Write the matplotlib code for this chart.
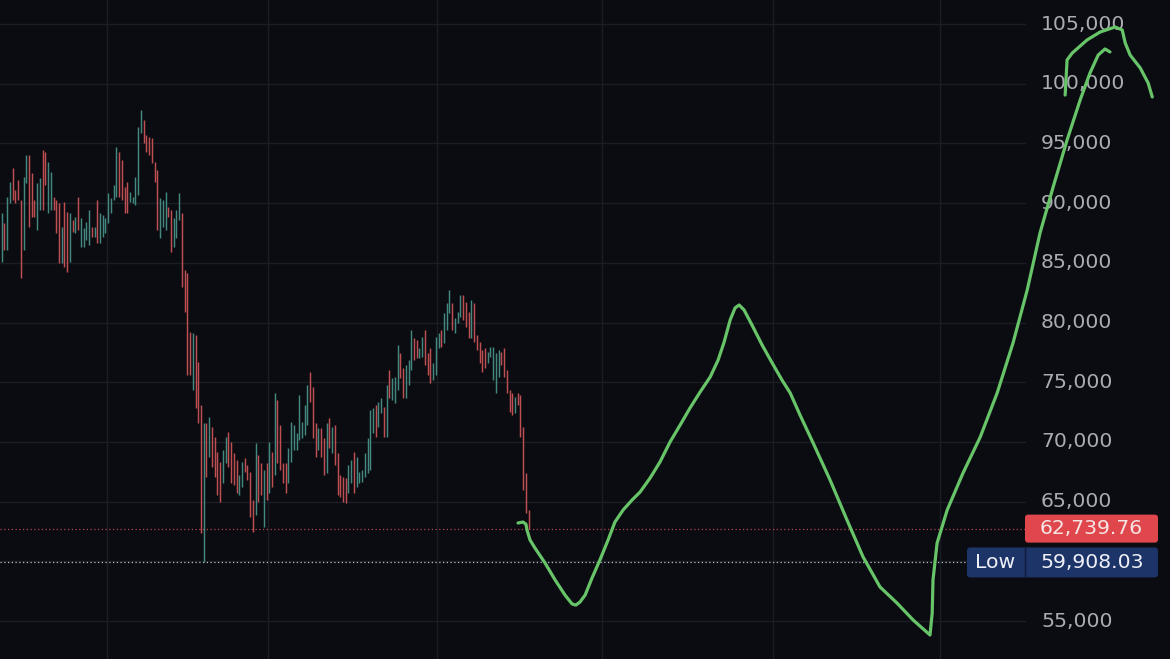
import matplotlib
matplotlib.use("Agg")
import matplotlib.pyplot as plt
import matplotlib.transforms as mtransforms
from matplotlib.patches import FancyBboxPatch
from matplotlib.lines import Line2D

# ---------------- data ----------------
highs = [89170, 88330, 90510, 91770, 92940, 91100, 91940, 90260, 92190, 94030,
         94030, 92520, 90260, 91680, 92100, 94450, 94280, 93440, 92600, 90510,
         90260, 90010, 88000, 90090, 89250, 89170, 88590, 88840, 90510, 88750,
         87920, 88420, 89420, 88000, 88000, 90260, 89170, 89000, 88750, 90850,
         90430, 91520, 94700, 94280, 93610, 91350, 91770, 90930, 90510, 92190,
         96370, 97800, 96960, 95700, 95540, 95450, 93440, 92770, 90430, 90260,
         90930, 89670, 89420, 88750, 89420, 90850, 89170, 84400, 84150, 79200,
         79120, 78950, 76690, 73090, 71590, 71590, 72090, 71250, 70410, 69160,
         68320, 69320, 70410, 70830, 70000, 69070, 68480, 67230, 68320, 68650,
         68070, 67480, 65140, 69910, 68900, 68240, 67650, 68240, 70000, 69160,
         74100, 73510, 71420, 68240, 68240, 69490, 71670, 71420, 70750, 73930,
         71670, 73090, 74770, 75860, 74600, 71590, 71170, 71170, 70330, 71590,
         72000, 71250, 71420, 69070, 67230, 67060, 66980, 68070, 68480, 69160,
         68740, 67480, 67650, 69070, 70330, 72670, 72840, 73090, 73340, 73680,
         72920, 74770, 76020, 75350, 75440, 78120, 77450, 76190, 76440, 76860,
         79370, 78700, 78540, 77870, 78790, 79370, 77450, 77870, 76610, 78790,
         79120, 79370, 80800, 81630, 82720, 81630, 80380, 80880, 82300, 82300,
         81720, 80880, 81890, 81630, 78950, 78370, 77700, 77870, 77530, 77950,
         77950, 77450, 77700, 77530, 77870, 76020, 74350, 74100, 73760, 74100,
         73930, 71250, 67400, 64300]
lows = [85070, 86070, 86070, 90010, 90260, 90010, 90260, 83730, 86070, 91680,
        88000, 88840, 88840, 87750, 89420, 89420, 91520, 89170, 89420, 89420,
        87500, 84980, 84980, 84650, 84230, 85070, 87580, 87500, 87750, 86320,
        86320, 86910, 86490, 87160, 87160, 86660, 86660, 87160, 87500, 88330,
        89170, 90260, 90510, 90510, 90260, 89170, 89170, 90090, 90010, 89840,
        90680, 95870, 95030, 94280, 94030, 93360, 91770, 87750, 87080, 88000,
        87750, 88840, 85900, 86320, 87080, 88590, 82970, 80880, 75600, 75600,
        74350, 72840, 71590, 62370, 59908, 67060, 68740, 67900, 67060, 65560,
        64970, 66560, 68240, 67900, 66560, 66390, 65720, 65560, 66220, 67480,
        66810, 63710, 62460, 63880, 64970, 65560, 62870, 65140, 65720, 66220,
        67230, 68240, 67650, 66560, 65720, 66560, 68320, 69320, 69320, 70160,
        70330, 70580, 71420, 73340, 70330, 68740, 69320, 68740, 67230, 67400,
        69490, 69070, 68070, 65560, 65390, 64970, 64880, 65720, 66560, 65720,
        66220, 66560, 66650, 67060, 67400, 67650, 70750, 70410, 71250, 72420,
        70410, 70410, 73680, 73510, 73260, 74350, 75350, 73680, 73680, 74770,
        76020, 76860, 77030, 77030, 77110, 76440, 75600, 74930, 75180, 75600,
        77870, 77950, 78280, 79370, 80800, 79370, 79120, 79960, 80460, 80210,
        79620, 78700, 78700, 78370, 77700, 76610, 75860, 76190, 76610, 77110,
        75180, 74100, 75440, 76440, 75440, 74100, 72500, 72250, 72420, 73090,
        70410, 65970, 64050, 62740]
directions = ("grggrrrrgg" "rrrggrrggr" "rrgrrgrgrg" "gggrgrgggg" "gggrrrrggg"
              "ggrrrrrrgg" "grrgggrrrr" "grrrgrgrrr" "rggrrrrggr" "rrrgrrgrgr"
              "grrrrggggg" "gggrrrgrrg" "rgrrrrrggr" "gggggggrgg" "rgrgggrrgg"
              "grrggrrrgg" "grgggrgggr" "rrgrrrrrgg" "gggrrrrrgr" "rrrr")

last_price = 62739.76
session_low = 59908.03

price_ticks = [105000, 100000, 95000, 90000, 85000, 80000, 75000, 70000, 65000, 55000]
time_grid = [38.6, 97.5, 159.5, 219.9, 282.5, 343.7]

# hand-drawn projection (bar index, price)
proj1_x = [189.1, 190.9, 192.0, 192.4, 193.5, 195.3, 199.0, 202.7, 206.3, 208.9,
           210.3, 211.8, 213.7, 216.2, 219.1, 222.1, 224.6, 227.6, 230.9, 233.8,
           237.5, 241.1, 244.8, 248.5, 252.1, 255.8, 259.5, 262.4, 264.6, 266.8,
           268.6, 270.1, 271.9, 274.8, 278.5, 282.2, 285.8, 288.8, 292.4, 297.2,
           303.4, 309.6, 315.5, 321.7, 327.9, 333.8, 340.0, 340.8, 341.1, 342.6,
           346.3, 352.1, 358.4, 364.6, 370.4, 375.6, 380.3, 385.1, 390.2, 395.0,
           398.6, 401.6, 404.1, 405.9]
proj1_y = [63210, 63290, 63120, 62620, 61790, 61120, 59860, 58440, 57180, 56430,
           56340, 56590, 57180, 58600, 60110, 61790, 63290, 64300, 65140, 65800,
           66980, 68320, 70000, 71420, 72840, 74180, 75440, 76860, 78370, 80210,
           81220, 81470, 81050, 79790, 78120, 76610, 75180, 74100, 72250, 69910,
           66810, 63460, 60360, 57850, 56510, 55090, 53830, 55670, 58440, 61530,
           64300, 67400, 70410, 74100, 78280, 82720, 87500, 91350, 95280, 98640,
           100900, 102400, 102910, 102660]
proj2_x = [389.5, 390.2, 392.1, 397.5, 402.3, 407.8, 410.4, 411.5, 413.3, 417.0,
           419.9, 421.4]
proj2_y = [99050, 101990, 102570, 103660, 104330, 104750, 104500, 103410, 102400,
           101320, 100060, 98890]

# ---------------- style ----------------
BG = "#0b0c11"
GRID = "#1a1d24"
UP = "#44897f"
DOWN = "#bf4f53"
LABEL = "#a9acb3"
GREEN = "#68c468"

W, H = 1170, 659
fig = plt.figure(figsize=(W / 100, H / 100), dpi=100, facecolor=BG)
ax = fig.add_axes([0, 0, 1, 1])
ax.set_facecolor(BG)
ax.set_xlim(-0.62, 427.9)
ax.set_ylim(51820, 107010)
ax.axis("off")

scale_left = 1025 / W

for p in range(55000, 106000, 5000):
    ax.axhline(p, xmin=0, xmax=scale_left, color=GRID, lw=1.0, zorder=1)
for t in time_grid:
    ax.axvline(t, color=GRID, lw=1.0, zorder=1)

xs = list(range(len(highs)))
cols = [UP if d == "g" else DOWN for d in directions[:len(highs)]]
ax.vlines(xs, lows, highs, colors=cols, lw=1.05, zorder=3)

ax.axhline(last_price, xmin=0, xmax=scale_left, color="#b8474b",
           ls=(0, (1, 2)), lw=0.9, zorder=2)
ax.axhline(session_low, xmin=0, xmax=967 / W, color="#b9bdc9",
           ls=(0, (1, 2)), lw=0.9, zorder=2)

ax.plot(proj1_x, proj1_y, color=GREEN, lw=2.3, solid_joinstyle="round",
        solid_capstyle="round", zorder=5)
ax.plot(proj2_x, proj2_y, color=GREEN, lw=2.3, solid_joinstyle="round",
        solid_capstyle="round", zorder=5)

blend = mtransforms.blended_transform_factory(ax.transAxes, ax.transData)
FS = 14.7
for p in price_ticks:
    ax.text(1041 / W, p, f"{p:,}", transform=blend, ha="left", va="center",
            color=LABEL, fontsize=FS, family="DejaVu Sans", zorder=4)

# price tags drawn in pixel coordinates
fig.canvas.draw()
ident = mtransforms.IdentityTransform()


def ypix(p):
    return ax.transData.transform((0, p))[1]


def tag(x0, x1, yc, h, color):
    box = FancyBboxPatch((x0, yc - h / 2), x1 - x0, h,
                         boxstyle="round,pad=0,rounding_size=3",
                         transform=ident, fc=color, ec="none", zorder=6)
    fig.add_artist(box)


yc1 = ypix(last_price)
tag(1025, 1158, yc1, 28, "#e0474d")
fig.text(1040 / W, yc1 / H, f"{last_price:,.2f}", ha="left", va="center",
         color="#f6e4e4", fontsize=FS, family="DejaVu Sans", zorder=7)

yc2 = ypix(session_low)
tag(967, 1158, yc2, 30, "#1d3469")
fig.add_artist(Line2D([1024.5, 1024.5], [yc2 - 15, yc2 + 15], transform=ident,
                      color="#0f1a38", lw=1.0, zorder=7))
fig.text(975 / W, yc2 / H, "Low", ha="left", va="center", color="#eef0f6",
         fontsize=FS, family="DejaVu Sans", zorder=7)
fig.text(1040 / W, yc2 / H, f"{session_low:,.2f}", ha="left", va="center",
         color="#eef0f6", fontsize=FS, family="DejaVu Sans", zorder=7)

fig.savefig("out.png", dpi=100, facecolor=BG)
